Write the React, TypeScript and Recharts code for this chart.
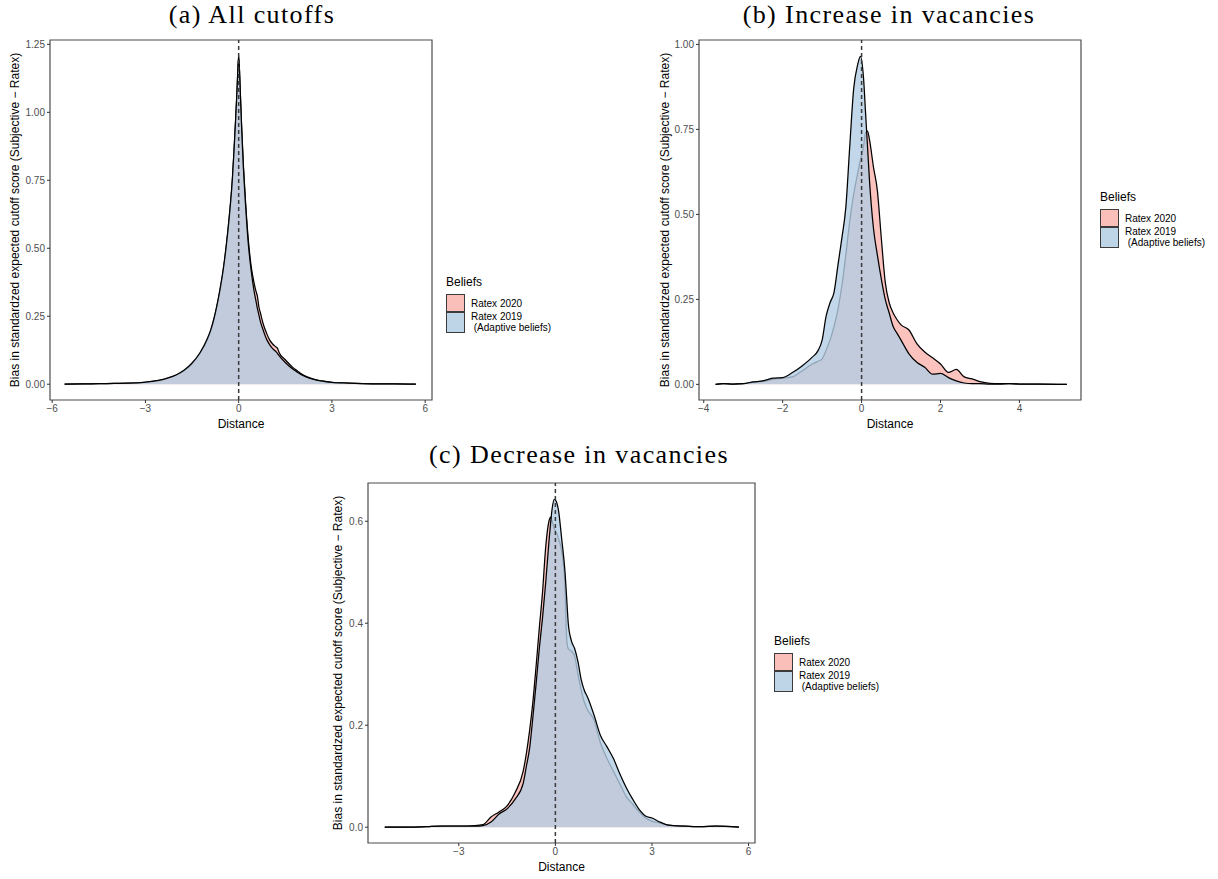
import { ComposedChart, Area, XAxis, YAxis, ReferenceLine, ReferenceArea, Legend } from 'recharts';

const SANS = '"Liberation Sans", Arial, Helvetica, sans-serif';
const SERIF = '"Liberation Serif", "Times New Roman", serif';

const Y_TITLE = 'Bias in standardzed expected cutoff score (Subjective \u2212 Ratex)';
const SERIES = ['Ratex 2020', 'Ratex 2019\n (Adaptive beliefs)'];
const FILLS = ['#FBB4AE', '#B3CDE3'];

// (a) All cutoffs
const distA = [
  -5.6, -5, -4.5, -4, -3.5, -3, -2.5, -2.25, -2, -1.75,
  -1.5, -1.25, -1, -0.9, -0.8, -0.7, -0.6, -0.5, -0.4, -0.3,
  -0.2, -0.15, -0.1, -0.05, 0, 0.05, 0.1, 0.15, 0.2, 0.3,
  0.4, 0.5, 0.55, 0.6, 0.65, 0.7, 0.8, 0.9, 1, 1.1,
  1.2, 1.25, 1.3, 1.5, 1.75, 1.9, 2, 2.25, 2.5, 3,
  3.5, 4, 4.5, 5, 5.7,
];
const ratex2020A = [
  0, 0.001, 0.002, 0.003, 0.004, 0.007, 0.015, 0.023, 0.034, 0.05,
  0.075, 0.112, 0.165, 0.195, 0.235, 0.285, 0.345, 0.415, 0.505, 0.615,
  0.755, 0.855, 0.965, 1.085, 1.205, 1.08, 0.935, 0.81, 0.71, 0.545,
  0.435, 0.37, 0.345, 0.325, 0.285, 0.262, 0.218, 0.187, 0.162, 0.147,
  0.137, 0.132, 0.117, 0.09, 0.061, 0.048, 0.039, 0.025, 0.016, 0.007,
  0.004, 0.002, 0.001, 0.001, 0,
];
const ratex2019A = [
  0, 0.001, 0.002, 0.003, 0.004, 0.008, 0.016, 0.024, 0.035, 0.052,
  0.078, 0.115, 0.17, 0.2, 0.24, 0.29, 0.35, 0.42, 0.51, 0.62,
  0.76, 0.86, 0.97, 1.09, 1.21, 1.08, 0.93, 0.8, 0.7, 0.53,
  0.42, 0.34, 0.31, 0.28, 0.255, 0.23, 0.195, 0.165, 0.145, 0.13,
  0.12, 0.113, 0.105, 0.08, 0.055, 0.043, 0.036, 0.023, 0.015, 0.007,
  0.004, 0.002, 0.001, 0.001, 0,
];

// (b) Increase in vacancies
const distB = [
  -3.7, -3.5, -3.25, -3, -2.75, -2.5, -2.25, -2, -1.75, -1.5,
  -1.25, -1.1, -1, -0.9, -0.8, -0.7, -0.6, -0.5, -0.4, -0.3,
  -0.2, -0.1, -0.03, 0.05, 0.1, 0.15, 0.2, 0.3, 0.4, 0.5,
  0.6, 0.7, 0.8, 0.9, 1, 1.2, 1.4, 1.6, 1.8, 2,
  2.2, 2.4, 2.6, 2.8, 3, 3.25, 3.5, 3.75, 4, 4.5,
  5.2,
];
const ratex2020B = [
  0, 0.002, 0.001, 0.002, 0.006, 0.009, 0.015, 0.018, 0.022, 0.04,
  0.06, 0.068, 0.075, 0.1, 0.13, 0.17, 0.22, 0.29, 0.38, 0.48,
  0.56, 0.62, 0.66, 0.7, 0.74, 0.745, 0.72, 0.64, 0.57, 0.43,
  0.3, 0.24, 0.21, 0.19, 0.175, 0.16, 0.12, 0.095, 0.078, 0.06,
  0.035, 0.044, 0.022, 0.016, 0.008, 0.003, 0.002, 0.002, 0.001, 0.001,
  0,
];
const ratex2019B = [
  0, 0.002, 0.001, 0.002, 0.007, 0.01, 0.018, 0.02, 0.035, 0.055,
  0.08, 0.1, 0.13, 0.2, 0.24, 0.27, 0.35, 0.43, 0.52, 0.7,
  0.87, 0.94, 0.965, 0.9, 0.8, 0.7, 0.6, 0.46, 0.38, 0.31,
  0.25, 0.21, 0.17, 0.15, 0.13, 0.09, 0.065, 0.05, 0.03, 0.032,
  0.02, 0.01, 0.004, 0.002, 0.002, 0.001, 0.001, 0.002, 0.001, 0.001,
  0,
];

// (c) Decrease in vacancies
const distC = [
  -5.3, -4.5, -4, -3.5, -3, -2.5, -2.25, -2, -1.75, -1.5,
  -1.25, -1, -0.9, -0.8, -0.7, -0.6, -0.5, -0.4, -0.3, -0.2,
  -0.15, -0.1, -0.03, 0.05, 0.1, 0.2, 0.3, 0.35, 0.4, 0.5,
  0.6, 0.7, 0.8, 0.9, 1, 1.2, 1.4, 1.6, 1.8, 2,
  2.2, 2.4, 2.6, 2.8, 3, 3.25, 3.5, 4, 4.5, 5,
  5.7,
];
const ratex2020C = [
  0, 0, 0.001, 0.002, 0.002, 0.003, 0.005, 0.02, 0.03, 0.042,
  0.068, 0.11, 0.145, 0.19, 0.245, 0.315, 0.39, 0.46, 0.55, 0.6,
  0.608, 0.6, 0.585, 0.575, 0.565, 0.54, 0.47, 0.37, 0.35, 0.345,
  0.335, 0.3, 0.27, 0.245, 0.23, 0.21, 0.165, 0.135, 0.11, 0.085,
  0.06, 0.045, 0.03, 0.018, 0.012, 0.008, 0.004, 0.002, 0.001, 0.002,
  0,
];
const ratex2019C = [
  0, 0, 0.001, 0.002, 0.002, 0.002, 0.003, 0.01, 0.026, 0.036,
  0.055, 0.086, 0.12, 0.155, 0.215, 0.28, 0.35, 0.41, 0.48, 0.56,
  0.595, 0.625, 0.643, 0.635, 0.62, 0.563, 0.5, 0.45, 0.4, 0.365,
  0.35, 0.325, 0.29, 0.268, 0.255, 0.22, 0.18, 0.158, 0.135, 0.105,
  0.078, 0.055, 0.035, 0.022, 0.018, 0.01, 0.004, 0.002, 0.001, 0.002,
  0,
];

const xTicksA = [-6, -3, 0, 3, 6];
const yTicksA = [0, 0.25, 0.5, 0.75, 1, 1.25];
const xTicksB = [-4, -2, 0, 2, 4];
const yTicksB = [0, 0.25, 0.5, 0.75, 1];
const xTicksC = [-3, 0, 3, 6];
const yTicksC = [0, 0.2, 0.4, 0.6];

const fmtX = (v: number) => String(v).replace('-', '\u2212');

function YTitle(props: any) {
  const { viewBox, gap } = props;
  if (!viewBox) return null;
  const cx = viewBox.x + gap;
  const cy = viewBox.y + viewBox.height / 2;
  return (
    <text
      x={cx}
      y={cy}
      transform={`rotate(-90 ${cx} ${cy})`}
      textAnchor="middle"
      dominantBaseline="central"
      fontSize={12}
      fill="#000"
    >
      {Y_TITLE}
    </text>
  );
}

function BeliefsLegend() {
  return (
    <div style={{ fontFamily: SANS, color: '#000' }}>
      <div style={{ fontSize: 12, lineHeight: '14px', marginBottom: 5 }}>Beliefs</div>
      {SERIES.map((name, i) => (
        <div
          key={name}
          style={{ display: 'flex', alignItems: 'center', marginTop: i === 0 ? 0 : -1 }}
        >
          <div
            style={{
              boxSizing: 'border-box',
              width: 19,
              height: i === 0 ? 18 : 21,
              border: '1.2px solid #1a1a1a',
              background: FILLS[i],
              opacity: 0.85,
            }}
          />
          <div style={{ fontSize: 10, lineHeight: '11px', marginLeft: 6, whiteSpace: 'pre' }}>
            {name}
          </div>
        </div>
      ))}
    </div>
  );
}

interface PanelProps {
  left: number;
  top: number;
  width: number;
  height: number;
  margin: { top: number; right: number; bottom: number; left: number };
  yAxisWidth: number;
  xAxisHeight: number;
  dist: number[];
  r2020: number[];
  r2019: number[];
  xDomain: [number, number];
  yDomain: [number, number];
  xTicks: number[];
  yTicks: number[];
  yDigits: number;
  yTitleGap: number;
  distanceOffset: number;
  legendLeft: number;
  legendTop: number;
}

function DensityPanel(p: PanelProps) {
  const rows = p.dist.map((x, i) => ({ x, r2020: p.r2020[i], r2019: p.r2019[i] }));

  return (
    <div style={{ position: 'absolute', left: p.left, top: p.top }}>
      <ComposedChart width={p.width} height={p.height} data={rows} margin={p.margin}>
        <XAxis
          dataKey="x"
          type="number"
          domain={p.xDomain}
          ticks={p.xTicks}
          allowDataOverflow
          height={p.xAxisHeight}
          tickFormatter={fmtX}
          tick={{ fontSize: 10, fill: '#4d4d4d' }}
          tickSize={3}
          tickLine={{ stroke: '#333' }}
          axisLine={false}
          label={{
            value: 'Distance',
            position: 'insideBottom',
            offset: p.distanceOffset,
            fontSize: 12,
            fill: '#000',
          }}
        />
        <YAxis
          type="number"
          domain={p.yDomain}
          ticks={p.yTicks}
          allowDataOverflow
          width={p.yAxisWidth}
          tickFormatter={(v: number) => v.toFixed(p.yDigits)}
          tick={{ fontSize: 10, fill: '#4d4d4d' }}
          tickSize={3}
          tickLine={{ stroke: '#333' }}
          axisLine={false}
          label={<YTitle gap={p.yTitleGap} />}
        />
        <Area
          type="monotone"
          dataKey="r2020"
          name={SERIES[0]}
          baseValue={0}
          fill={FILLS[0]}
          fillOpacity={0.8}
          stroke="#000"
          strokeWidth={1.25}
          dot={false}
          activeDot={false}
          isAnimationActive={false}
        />
        <Area
          type="monotone"
          dataKey="r2019"
          name={SERIES[1]}
          baseValue={0}
          fill={FILLS[1]}
          fillOpacity={0.8}
          stroke="#000"
          strokeWidth={1.25}
          dot={false}
          activeDot={false}
          isAnimationActive={false}
        />
        <ReferenceLine x={0} stroke="#3a3a3a" strokeWidth={1.5} strokeDasharray="4 3" />
        <ReferenceArea
          x1={p.xDomain[0]}
          x2={p.xDomain[1]}
          y1={p.yDomain[0]}
          y2={p.yDomain[1]}
          fill="none"
          fillOpacity={0}
          stroke="#4d4d4d"
          strokeWidth={1.2}
          ifOverflow="visible"
        />
        <Legend
          layout="vertical"
          align="center"
          verticalAlign="middle"
          content={<BeliefsLegend />}
          wrapperStyle={{ left: p.legendLeft, top: p.legendTop, width: 'auto' }}
        />
      </ComposedChart>
    </div>
  );
}

function Title({ text, cx, top }: { text: string; cx: number; top: number }) {
  return (
    <div
      style={{
        position: 'absolute',
        left: cx - 200,
        top,
        width: 400,
        textAlign: 'center',
        fontFamily: SERIF,
        fontSize: 26,
        lineHeight: '30px',
        letterSpacing: 1.4,
        color: '#000',
        whiteSpace: 'nowrap',
      }}
    >
      {text}
    </div>
  );
}

export default function App() {
  return (
    <div
      style={{
        position: 'absolute',
        left: 0,
        top: 0,
        width: 1218,
        height: 879,
        overflow: 'hidden',
        background: '#fff',
        fontFamily: SANS,
      }}
    >
      <Title text="(a) All cutoffs" cx={252} top={0} />
      <Title text="(b) Increase in vacancies" cx={889} top={0} />
      <Title text="(c) Decrease in vacancies" cx={579} top={440} />

      <DensityPanel
        left={0}
        top={0}
        width={640}
        height={440}
        margin={{ top: 40, right: 208, bottom: 0, left: 0 }}
        yAxisWidth={50}
        xAxisHeight={40}
        dist={distA}
        r2020={ratex2020A}
        r2019={ratex2019A}
        xDomain={[-6.07, 6.22]}
        yDomain={[-0.058, 1.266]}
        xTicks={xTicksA}
        yTicks={yTicksA}
        yDigits={2}
        yTitleGap={15}
        distanceOffset={12}
        legendLeft={446}
        legendTop={275}
      />

      <DensityPanel
        left={650}
        top={0}
        width={568}
        height={440}
        margin={{ top: 40, right: 137, bottom: 0, left: 0 }}
        yAxisWidth={49}
        xAxisHeight={40}
        dist={distB}
        r2020={ratex2020B}
        r2019={ratex2019B}
        xDomain={[-4.12, 5.56]}
        yDomain={[-0.046, 1.013]}
        xTicks={xTicksB}
        yTicks={yTicksB}
        yDigits={2}
        yTitleGap={15}
        distanceOffset={12}
        legendLeft={450}
        legendTop={190}
      />

      <DensityPanel
        left={318}
        top={440}
        width={600}
        height={439}
        margin={{ top: 43, right: 163, bottom: 0, left: 0 }}
        yAxisWidth={50}
        xAxisHeight={36}
        dist={distC}
        r2020={ratex2020C}
        r2019={ratex2019C}
        xDomain={[-5.82, 6.2]}
        yDomain={[-0.031, 0.675]}
        xTicks={xTicksC}
        yTicks={yTicksC}
        yDigits={1}
        yTitleGap={20}
        distanceOffset={8}
        legendLeft={456}
        legendTop={194}
      />
    </div>
  );
}
